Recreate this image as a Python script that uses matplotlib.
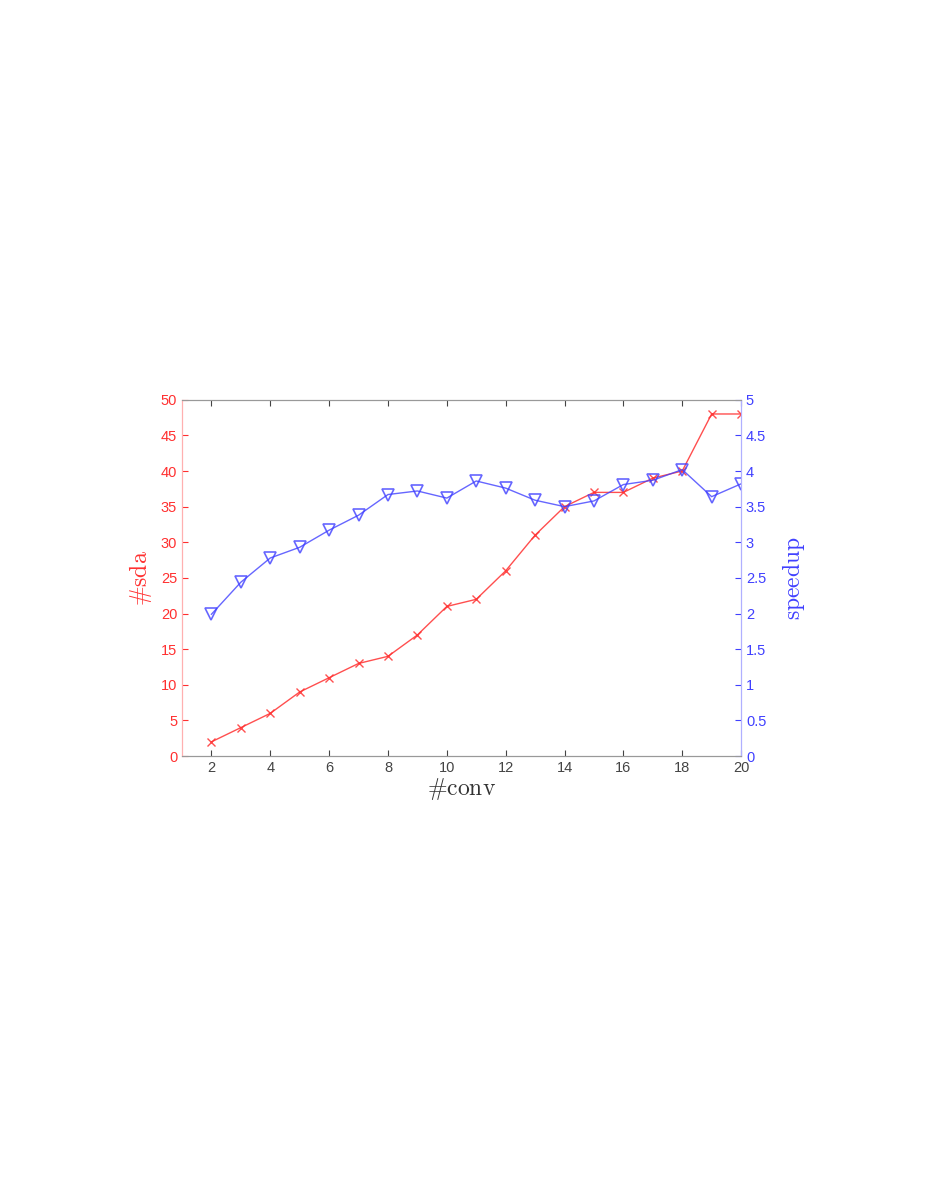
import matplotlib
matplotlib.use("Agg")
import matplotlib.pyplot as plt

plt.rcParams["font.family"] = ["Liberation Sans", "DejaVu Sans"]
plt.rcParams["mathtext.fontset"] = "cm"

conv = [2, 3, 4, 5, 6, 7, 8, 9, 10, 11, 12, 13, 14, 15, 16, 17, 18, 19, 20]
sda = [2, 4, 6, 9, 11, 13, 14, 17, 21, 22, 26, 31, 35, 37, 37, 39, 40, 48, 48]
speedup = [1.99, 2.44, 2.78, 2.93, 3.17, 3.38, 3.67, 3.72, 3.62, 3.86,
           3.76, 3.59, 3.5, 3.58, 3.81, 3.87, 4.02, 3.64, 3.82]

red = "#ff3030"
blue = "#4040ff"

fig = plt.figure(figsize=(9.31, 12.04), dpi=100)
ax = fig.add_axes([0.1955, 0.372, 0.6005, 0.296])
ax2 = ax.twinx()

ax.plot(conv, sda, color=red, marker="x", markersize=5.5, linewidth=1, alpha=0.85)
ax2.plot(conv, speedup, color=blue, marker="v", markersize=8.5,
         markerfacecolor="none", markeredgewidth=1.2, linewidth=1, alpha=0.8)

ax.set_xlim(1, 20)
ax.set_ylim(0, 50)
ax2.set_ylim(0, 5)
ax.set_xticks(range(2, 21, 2))
ax.set_yticks(range(0, 51, 5))
ax2.set_yticks([0, 0.5, 1, 1.5, 2, 2.5, 3, 3.5, 4, 4.5, 5])
ax2.set_yticklabels(["0", "0.5", "1", "1.5", "2", "2.5", "3", "3.5", "4", "4.5", "5"])

ax.tick_params(axis="x", direction="in", top=True, labelsize=10.5, colors="#444444",
               length=4)
ax.tick_params(axis="y", direction="in", labelsize=10.5, colors=red, length=4)
ax2.tick_params(axis="y", direction="in", labelsize=10.5, colors=blue, length=4)

for a in (ax, ax2):
    a.spines["top"].set_color("#999999")
    a.spines["bottom"].set_color("#999999")
    a.spines["left"].set_color("#ffb0b0")
    a.spines["right"].set_color("#b0b0ff")

ax.set_xlabel(r"$\#\mathrm{conv}$", fontsize=17, color="#333333", labelpad=1)
ax.set_ylabel(r"$\#\mathrm{sda}$", fontsize=17, color=red, labelpad=5)
ax2.set_ylabel(r"$\mathrm{speedup}$", fontsize=17, color=blue, labelpad=10)

fig.savefig("out.png", dpi=100)
